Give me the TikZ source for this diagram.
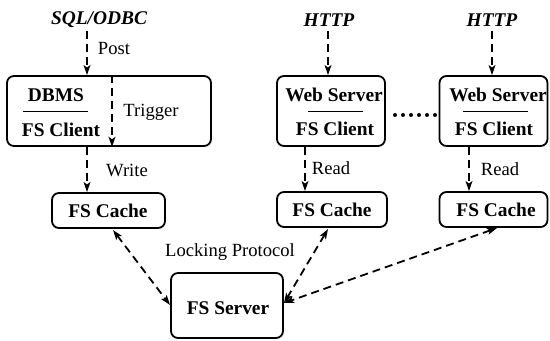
\documentclass[tikz,border=0pt]{standalone}
\usepackage{fontspec}
\setmainfont{Liberation Serif}
\usetikzlibrary{arrows.meta}
\begin{document}
\begin{tikzpicture}[x=0.5pt,y=-0.5pt,
  box/.style={draw,line width=0.9pt,rounded corners=3.5pt,inner sep=0pt},
  btxt/.style={font=\fontsize{9.7}{11}\selectfont\bfseries,inner sep=0pt},
  itxt/.style={font=\fontsize{9.7}{11}\selectfont\bfseries\itshape,inner sep=0pt},
  ltxt/.style={font=\fontsize{9.3}{11}\selectfont,inner sep=0pt},
  flow/.style={line width=0.9pt,dash pattern=on 4pt off 2.5pt,-{Stealth[length=5pt,width=3.4pt,inset=1.2pt]}},
  twoway/.style={line width=0.9pt,dash pattern=on 4pt off 2.5pt,{Stealth[length=5pt,width=3.4pt,inset=1.2pt]}-{Stealth[length=5pt,width=3.4pt,inset=1.2pt]}},
  sep/.style={line width=0.5pt},
  dot/.style={circle,fill,inner sep=0pt,minimum size=2pt}]
\useasboundingbox (0,0) rectangle (550,341);

% boxes
\node[box,minimum width=102pt,minimum height=35pt] (dbms) at (109,111) {};
\node[box,minimum width=54pt,minimum height=35pt] (web1) at (331,111) {};
\node[box,minimum width=54pt,minimum height=35pt] (web2) at (493.5,111) {};
\node[box,minimum width=56.5pt,minimum height=17.5pt] (cache1) at (108.5,210.5) {};
\node[box,minimum width=55pt,minimum height=17.5pt] (cache2) at (332,209.5) {};
\node[box,minimum width=54pt,minimum height=17.5pt] (cache3) at (493.5,209.5) {};
\node[box,minimum width=56pt,minimum height=32.5pt] (server) at (227,305.5) {};

% box contents
\node[btxt] (dbmst) at (56,95) {DBMS};
\node[btxt] (fsc1) at (61,130) {FS Client};
\draw[sep] (23,112) -- (88,112);
\node[ltxt] (trig) at (151,112) {Trigger};

\node[btxt] (ws1) at (334,95) {Web Server};
\node[btxt] (fsc2) at (335,129) {FS Client};
\draw[sep] (308,112) -- (363,112);

\node[btxt] (ws2) at (498,95) {Web Server};
\node[btxt] (fsc3) at (494,129) {FS Client};
\draw[sep] (463,112) -- (528,112);

\node[btxt] (c1t) at (108,211) {FS Cache};
\node[btxt] (c2t) at (332,209.5) {FS Cache};
\node[btxt] (c3t) at (496,209.5) {FS Cache};
\node[btxt] (srvt) at (228,308) {FS Server};

% inputs
\node[itxt] (sql) at (99,20) {SQL/ODBC};
\node[itxt] (http1) at (329,20) {HTTP};
\node[itxt] (http2) at (492,20) {HTTP};

\coordinate (sqlin) at (87,31);
\coordinate (h1in) at (328,31);
\coordinate (h2in) at (492,31);
\draw[flow] (sqlin) -- (sqlin |- dbms.north);
\draw[flow] (h1in) -- (h1in |- web1.north);
\draw[flow] (h2in) -- (h2in |- web2.north);
\node[ltxt] (post) at (114,49) {Post};

% trigger inside the DBMS box
\coordinate (trx) at (112,0);
\draw[flow] (trx |- dbms.north) -- (trx |- dbms.south);

% client to cache
\coordinate (wx) at (87,0);
\coordinate (r1x) at (305,0);
\coordinate (r2x) at (469,0);
\draw[flow] (wx |- dbms.south) -- (wx |- cache1.north);
\draw[flow] (r1x |- web1.south) -- (r1x |- cache2.north);
\draw[flow] (r2x |- web2.south) -- (r2x |- cache3.north);
\node[ltxt] (write) at (127,170) {Write};
\node[ltxt] (read1) at (331,168) {Read};
\node[ltxt] (read2) at (500,169) {Read};

% dots between the web servers
\foreach \i in {0,...,5} \node[dot] (d\i) at (395+8*\i,115) {};

% locking protocol
\coordinate (a1) at (113,230);
\coordinate (b1) at (170,305);
\coordinate (a2) at (328,229);
\coordinate (a3) at (497,228);
\coordinate (b2) at (284,303);
\draw[twoway] (a1) -- (b1);
\draw[twoway] (a2) -- (b2);
\draw[twoway] (a3) -- (b2);
\node[ltxt] (lock) at (230,252) {Locking Protocol};
\end{tikzpicture}
\end{document}
